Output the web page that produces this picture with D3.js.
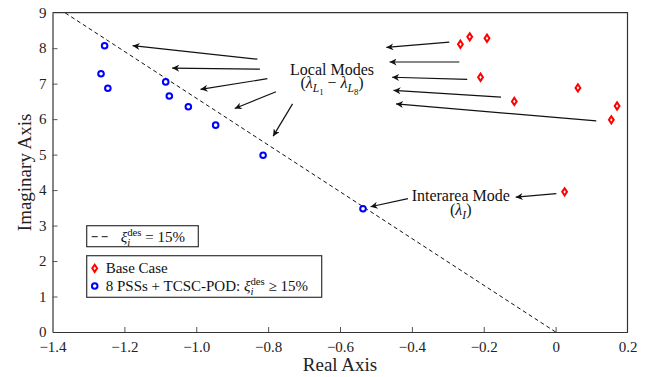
<!DOCTYPE html>
<html>
<head>
<meta charset="utf-8">
<script src="https://cdn.jsdelivr.net/npm/d3@7"></script>
<style>
  body { margin: 0; background: #fff; }
  svg { font-family: "Liberation Serif", "DejaVu Serif", serif; }
</style>
</head>
<body>
<div id="chart"></div>
<script>
"use strict";
// eigenvalues, base case (red diamonds)
var baseReal = [-0.265, -0.239, -0.191, -0.209, -0.115, 0.062, 0.171, 0.155, 0.025];
var baseImag = [8.11, 8.32, 8.28, 7.18, 6.50, 6.88, 6.37, 5.98, 3.95];

// eigenvalues with 8 PSSs + TCSC-POD (blue circles)
var podReal = [-1.255, -1.265, -1.246, -1.085, -1.075, -1.022, -0.946, -0.814, -0.536];
var podImag = [8.07, 7.28, 6.87, 7.05, 6.65, 6.35, 5.83, 4.98, 3.475];

// 15% damping line
var zetaDes = 0.15;
var lineTopImag = 9;

var xTicks = [-1.4, -1.2, -1.0, -0.8, -0.6, -0.4, -0.2, 0, 0.2];
var yTicks = [0, 1, 2, 3, 4, 5, 6, 7, 8, 9];

// arrows [fromX, fromY, toX, toY] in data units
var localArrows = [
  [-0.830, 7.69, -1.177, 8.07],
  [-0.823, 7.41, -1.067, 7.44],
  [-0.802, 7.14, -0.988, 6.84],
  [-0.778, 6.77, -0.893, 6.30],
  [-0.732, 6.43, -0.786, 5.52],
  [-0.296, 8.17, -0.471, 8.02],
  [-0.268, 7.61, -0.462, 7.61],
  [-0.246, 7.12, -0.455, 7.18],
  [-0.152, 6.62, -0.451, 6.81],
  [0.113, 5.95, -0.444, 6.43]
];
var interArrows = [
  [-0.411, 3.76, -0.515, 3.53],
  [0.002, 3.90, -0.111, 3.80]
];
var localLabelPos = [-0.622, 7.24];
var interLabelPos = [-0.264, 3.70];

var W = 646, H = 377;
var margin = { left: 52.5, right: 18.5, top: 12.7, bottom: 45 };
var iw = W - margin.left - margin.right,
  ih = H - margin.top - margin.bottom;

var svg = d3.select("#chart").append("svg")
  .attr("width", W)
  .attr("height", H);

svg.append("defs").append("marker")
  .attr("id", "head")
  .attr("viewBox", "0 0 10 10")
  .attr("refX", 10)
  .attr("refY", 5)
  .attr("markerWidth", 10)
  .attr("markerHeight", 7)
  .attr("markerUnits", "userSpaceOnUse")
  .attr("orient", "auto")
  .append("path")
  .attr("d", "M10,5L0,0L3,5L0,10Z")
  .attr("fill", "#111");

var g = svg.append("g")
  .attr("transform", "translate(" + margin.left + "," + margin.top + ")");

var x = d3.scaleLinear().domain([-1.4, 0.2]).range([0, iw]);
var y = d3.scaleLinear().domain([0, 9]).range([ih, 0]);

// frame top / right
g.append("path")
  .attr("d", "M0,0H" + iw + "V" + ih)
  .attr("fill", "none")
  .attr("stroke", "#333")
  .attr("stroke-width", 1.2);

var fmt = function(d) {
  if (d === 0) return "0";
  var s = d3.format(".1f")(Math.abs(d));
  return (d < 0 ? "\u2212" : "") + s;
};

var xAxis = g.append("g")
  .call(function(a) { a.attr("transform", "translate(0," + ih + ")"); })
  .call(d3.axisBottom(x).tickValues(xTicks).tickFormat(fmt).tickSizeInner(-5).tickSizeOuter(0).tickPadding(9));
var yAxis = g.append("g")
  .call(d3.axisLeft(y).tickValues(yTicks).tickFormat(d3.format("d")).tickSizeInner(-5).tickSizeOuter(0).tickPadding(6));

[xAxis, yAxis].forEach(function(a) {
  a.attr("font-family", "Liberation Serif").attr("font-size", 15);
  a.select(".domain").attr("stroke", "#333").attr("stroke-width", 1.2);
  a.selectAll(".tick line").attr("stroke", "#555");
  a.selectAll("text").attr("fill", "#222");
});
// corner ticks sit on the frame
xAxis.selectAll(".tick").filter(function(d) { return d === -1.4 || d === 0.2; }).select("line").remove();
yAxis.selectAll(".tick").filter(function(d) { return d === 0 || d === 9; }).select("line").remove();

// axis titles
svg.append("text")
  .attr("x", margin.left + iw / 2)
  .attr("y", 371)
  .attr("text-anchor", "middle")
  .style("font-size", "19px")
  .attr("fill", "#222")
  .text("Real Axis");
svg.append("text")
  .attr("transform", "translate(31," + (margin.top + ih / 2) + ") rotate(-90)")
  .attr("text-anchor", "middle")
  .style("font-size", "19px")
  .attr("fill", "#222")
  .text("Imaginary Axis");

// damping line
var slope = Math.sqrt(1 - zetaDes * zetaDes) / zetaDes;
g.append("line")
  .attr("x1", x(0))
  .attr("y1", y(0))
  .attr("x2", x(-lineTopImag / slope))
  .attr("y2", y(lineTopImag))
  .attr("stroke", "#111")
  .attr("stroke-width", 1)
  .attr("stroke-dasharray", "4,3");

// arrows
g.selectAll(".arrow")
  .data(localArrows.concat(interArrows))
  .enter()
  .append("line")
  .attr("class", "arrow")
  .attr("x1", function(d) { return x(d[0]); })
  .attr("y1", function(d) { return y(d[1]); })
  .attr("x2", function(d) { return x(d[2]); })
  .attr("y2", function(d) { return y(d[3]); })
  .attr("stroke", "#111")
  .attr("stroke-width", 1.2)
  .attr("marker-end", "url(#head)");

function diamond(s) {
  return "M0," + (-s * 1.5) + "L" + s + ",0L0," + (s * 1.5) + "L" + (-s) + ",0Z";
}

// base case points
g.selectAll(".base")
  .data(baseReal)
  .enter()
  .append("path")
  .attr("class", "base")
  .attr("transform", function(d, i) { return "translate(" + x(d) + "," + y(baseImag[i]) + ")"; })
  .attr("d", diamond(2.4))
  .attr("fill", "#fff")
  .attr("stroke", "#f00")
  .attr("stroke-width", 2);

// pod points
g.selectAll(".pod")
  .data(podReal)
  .enter()
  .append("circle")
  .attr("class", "pod")
  .attr("cx", function(d) { return x(d); })
  .attr("cy", function(d, i) { return y(podImag[i]); })
  .attr("r", 2.8)
  .attr("fill", "#fff")
  .attr("stroke", "#00f")
  .attr("stroke-width", 2);

// rich text helper: parts [text, style, level]
function rich(sel, parts) {
  var shift = { n: 0, sub: 4, sup: -6, subsub: 7 };
  var size = { n: 1, sub: 0.72, sup: 0.72, subsub: 0.55 };
  var cur = 0;
  parts.forEach(function(p) {
    var lvl = p[2] || "n";
    var t = sel.append("tspan")
      .attr("dy", shift[lvl] - cur)
      .style("font-size", size[lvl] + "em")
      .text(p[0]);
    if (p[1] === "i") t.style("font-style", "italic");
    cur = shift[lvl];
  });
  if (cur !== 0) sel.append("tspan").attr("dy", -cur).text("\u200b");
}

// local modes label
var lx = x(localLabelPos[0]), ly = y(localLabelPos[1]);
g.append("text")
  .attr("x", lx).attr("y", ly)
  .attr("text-anchor", "middle")
  .style("font-size", "16px")
  .attr("fill", "#111")
  .text("Local Modes");
var l2 = g.append("text")
  .attr("x", lx).attr("y", ly + 13)
  .attr("text-anchor", "middle")
  .style("font-size", "16px")
  .attr("fill", "#111");
rich(l2, [["(", ""], ["\u03bb", "i"], ["L", "i", "sub"], ["1", "", "subsub"],
  [" \u2212 ", ""], ["\u03bb", "i"], ["L", "i", "sub"], ["8", "", "subsub"], [")", ""]]);

// interarea label
var ix = x(interLabelPos[0]), iy = y(interLabelPos[1]);
g.append("text")
  .attr("x", ix).attr("y", iy)
  .attr("text-anchor", "middle")
  .style("font-size", "16px")
  .attr("fill", "#111")
  .text("Interarea Mode");
var i2 = g.append("text")
  .attr("x", ix).attr("y", iy + 14.5)
  .attr("text-anchor", "middle")
  .style("font-size", "16px")
  .attr("fill", "#111");
rich(i2, [["(", ""], ["\u03bb", "i"], ["I", "i", "sub"], [")", ""]]);

// legend 1: damping line
var lg1 = svg.append("g").attr("transform", "translate(86.7,225.7)");
lg1.append("rect")
  .attr("width", 111.6).attr("height", 21)
  .attr("fill", "#fff").attr("stroke", "#333").attr("stroke-width", 1.2);
lg1.append("line")
  .attr("x1", 5).attr("x2", 23).attr("y1", 11).attr("y2", 11)
  .attr("stroke", "#111").attr("stroke-dasharray", "6,4");
var t1 = lg1.append("text").attr("x", 34).attr("y", 16)
  .style("font-size", "15px").attr("fill", "#111");
rich(t1, [["\u03be", "i"], ["i", "i", "sub"], ["des", "", "sup"], [" = 15%", ""]]);
// put the superscript over the subscript
t1.selectAll("tspan").filter(function(d, i) { return i === 2; }).attr("dx", -3);

// legend 2: markers
var lg2 = svg.append("g").attr("transform", "translate(86.7,255.7)");
lg2.append("rect")
  .attr("width", 235).attr("height", 41.6)
  .attr("fill", "#fff").attr("stroke", "#333").attr("stroke-width", 1.2);
lg2.append("path")
  .attr("transform", "translate(8,12.6)")
  .attr("d", diamond(2.4))
  .attr("fill", "#fff").attr("stroke", "#f00").attr("stroke-width", 2);
lg2.append("circle")
  .attr("cx", 8).attr("cy", 30.3).attr("r", 2.8)
  .attr("fill", "#fff").attr("stroke", "#00f").attr("stroke-width", 2);
lg2.append("text").attr("x", 19).attr("y", 17.5)
  .style("font-size", "15px").attr("fill", "#111").text("Base Case");
var t2 = lg2.append("text").attr("x", 19).attr("y", 35)
  .style("font-size", "15px").attr("fill", "#111");
rich(t2, [["8 PSSs + TCSC-POD: ", ""], ["\u03be", "i"], ["i", "i", "sub"], ["des", "", "sup"], [" \u2265 15%", ""]]);
t2.selectAll("tspan").filter(function(d, i) { return i === 3; }).attr("dx", -3);
</script>
</body>
</html>
